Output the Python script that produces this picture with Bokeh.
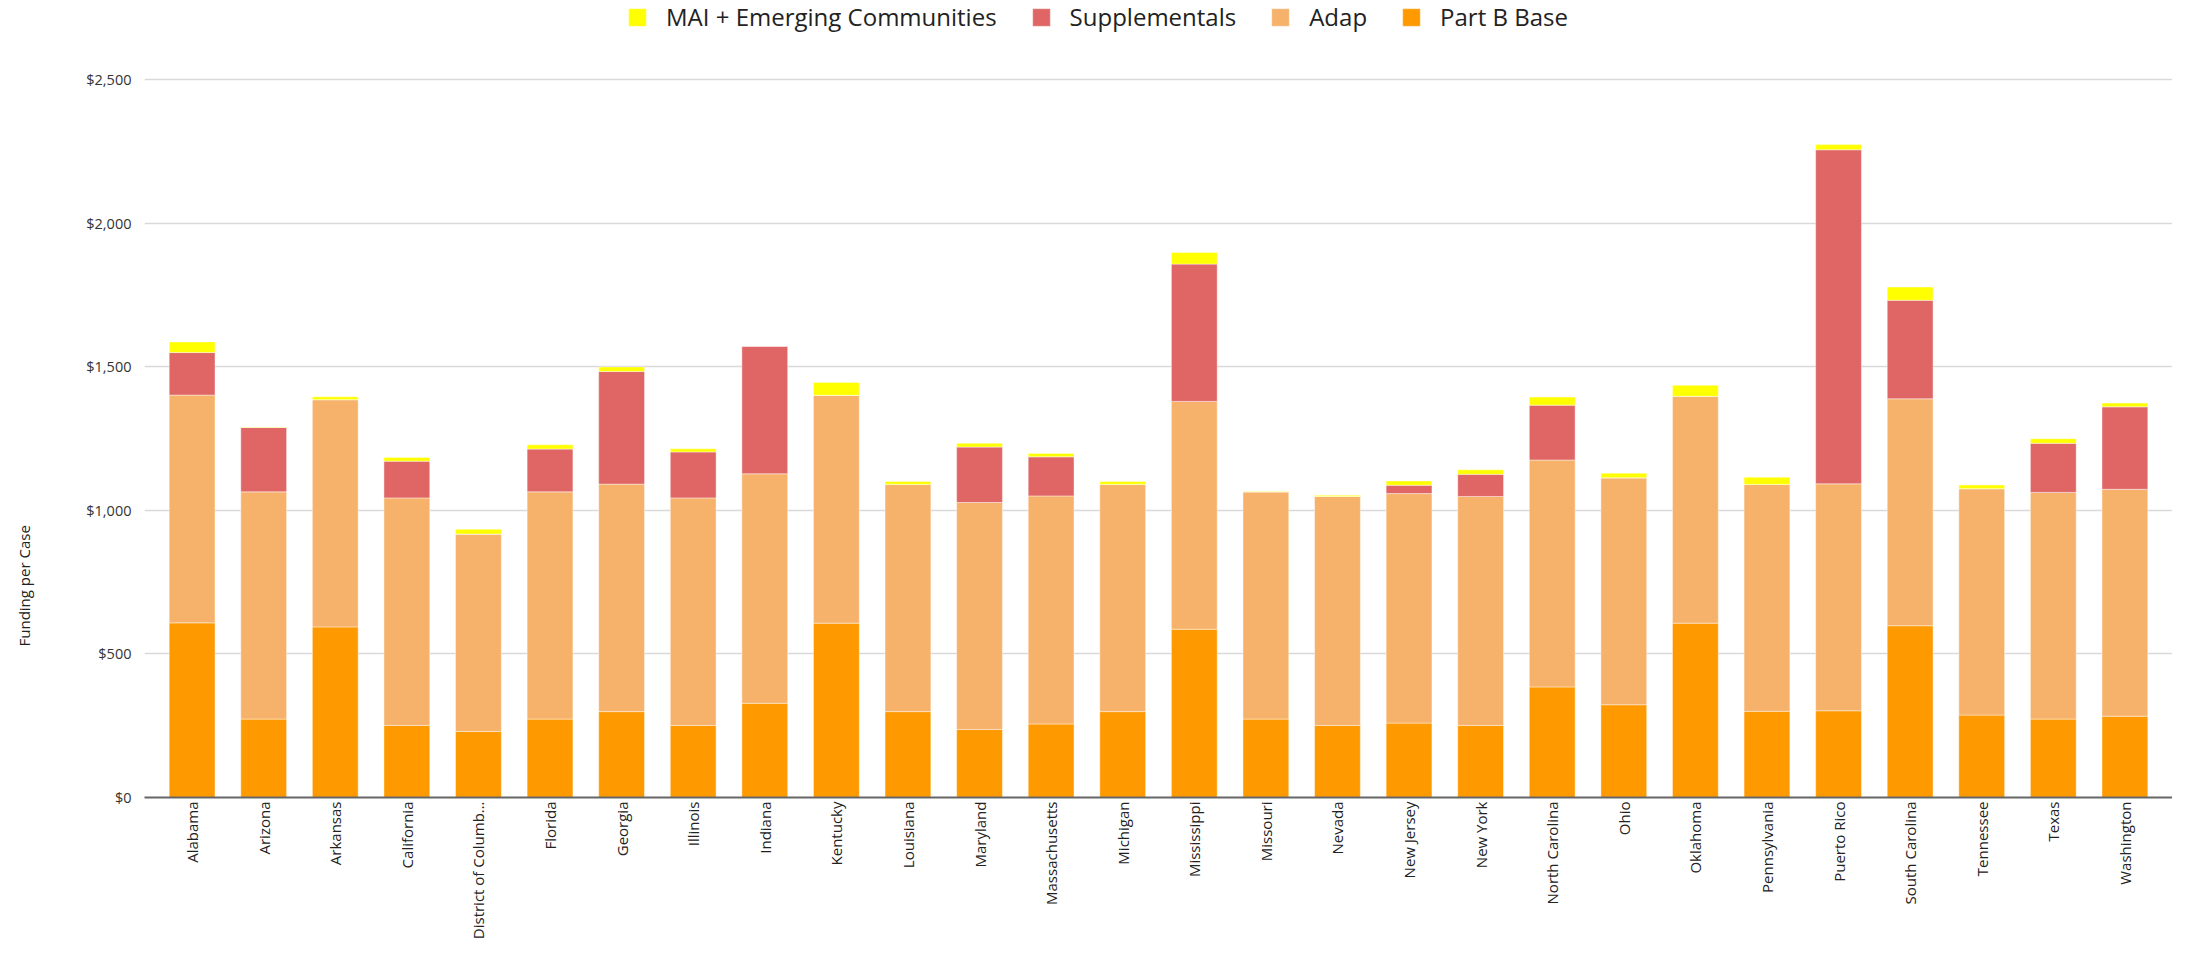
import math
from bokeh.plotting import figure
from bokeh.models import (FactorRange, Range1d, Legend, LegendItem, Title,
                          NumeralTickFormatter, FixedTicker, ColumnDataSource)
from bokeh.embed import file_html
from bokeh.resources import INLINE

states = ["Alabama", "Arizona", "Arkansas", "California", "District of Columb\u2026",
          "Florida", "Georgia", "Illinois", "Indiana", "Kentucky", "Louisiana",
          "Maryland", "Massachusetts", "Michigan", "Mississippi", "Missouri",
          "Nevada", "New Jersey", "New York", "North Carolina", "Ohio", "Oklahoma",
          "Pennsylvania", "Puerto Rico", "South Carolina", "Tennessee", "Texas",
          "Washington"]

part_b_base = [608, 273, 594, 251, 230, 273, 299, 251, 328, 607, 299, 237, 256, 299,
               586, 273, 251, 259, 251, 385, 323, 607, 300, 302, 598, 287, 273, 283]
adap = [793, 791, 791, 792, 687, 791, 792, 792, 799, 793, 791, 790, 794, 791,
        793, 791, 797, 799, 797, 790, 790, 790, 790, 790, 790, 788, 789, 790]
supplementals = [148, 224, 0, 128, 0, 149, 392, 160, 444, 0, 0, 193, 136, 0,
                 478, 0, 0, 29, 77, 191, 0, 0, 0, 1163, 343, 0, 171, 287]
mai_emerging = [37, 2, 10, 13, 17, 15, 16, 11, 0, 45, 10, 13, 12, 10,
                40, 2, 4, 15, 16, 28, 16, 38, 25, 18, 46, 13, 16, 13]

y_ticks = [0, 500, 1000, 1500, 2000, 2500]

series_names = ["Part B Base", "Adap", "Supplementals", "MAI + Emerging Communities"]
series_keys = ["part_b", "adap", "supp", "mai"]
colors = ["#FF9900", "#F6B26B", "#E06666", "#FFFF00"]

source = ColumnDataSource(data=dict(state=states, part_b=part_b_base, adap=adap,
                                    supp=supplementals, mai=mai_emerging))

FONT = "Open Sans"
W, H = 2172, 946
BL, BR, BB = 144, 0, 149
FRAME_H = 788            # expected frame height
TOP_GRID_PX = 78         # screen y of the $2,500 gridline from the figure top
y_end = 2500 * FRAME_H / (FRAME_H - TOP_GRID_PX)

p = figure(x_range=FactorRange(factors=states, range_padding=0.165,
                               range_padding_units="absolute"),
           y_range=Range1d(0, y_end),
           width=W, height=H, output_backend="svg", toolbar_location=None,
           min_border_left=BL, min_border_right=BR, min_border_top=0,
           min_border_bottom=BB)

renderers = p.vbar_stack(series_keys, x="state", width=0.64, source=source,
                         color=colors, line_color="white", line_width=0.6,
                         line_alpha=0.7)

items = [LegendItem(label=series_names[i], renderers=[renderers[i]])
         for i in [3, 2, 1, 0]]
legend = Legend(items=items, orientation="horizontal",
                location=(482, FRAME_H - 24),
                background_fill_alpha=0, border_line_color=None,
                label_text_font=FONT, label_text_font_size="24px",
                label_text_color="#222222", glyph_width=22, glyph_height=22,
                spacing=33, label_standoff=18, margin=0, padding=2)
p.add_layout(legend, "center")

p.yaxis.ticker = FixedTicker(ticks=y_ticks)
p.yaxis.formatter = NumeralTickFormatter(format="$0,0")
p.yaxis.axis_line_color = None
p.yaxis.major_tick_line_color = None
p.yaxis.minor_tick_line_color = None
p.yaxis.major_tick_out = 0
p.yaxis.major_label_text_font = FONT
p.yaxis.major_label_text_font_size = "14.5px"
p.yaxis.major_label_text_color = "#333333"
p.yaxis.major_label_standoff = 13
# blank spacer label that pushes the axis title further out
p.yaxis.axis_label = "\u00a0"
p.yaxis.axis_label_text_font_size = "17px"
p.yaxis.axis_label_standoff = 23

y_title = Title(text="Funding per Case", align="left", offset=151,
                text_font=FONT, text_font_size="15px", text_font_style="normal",
                text_color="#222222")
p.add_layout(y_title, "left")

p.xaxis.major_label_orientation = math.pi / 2
p.xaxis.major_label_text_font = FONT
p.xaxis.major_label_text_font_size = "15px"
p.xaxis.major_label_text_color = "#222222"
p.xaxis.major_label_standoff = 4
p.xaxis.major_tick_out = 0
p.xaxis.major_tick_in = 0
p.xaxis.axis_line_color = "#666666"
p.xaxis.axis_line_width = 2
p.xaxis.major_tick_line_color = None
p.xaxis.minor_tick_line_color = None

p.xgrid.grid_line_color = None
p.ygrid.grid_line_color = "#d9d9d9"
p.ygrid.grid_line_width = 1.5
p.outline_line_color = None

open("out.html", "w").write(file_html(p, INLINE))
